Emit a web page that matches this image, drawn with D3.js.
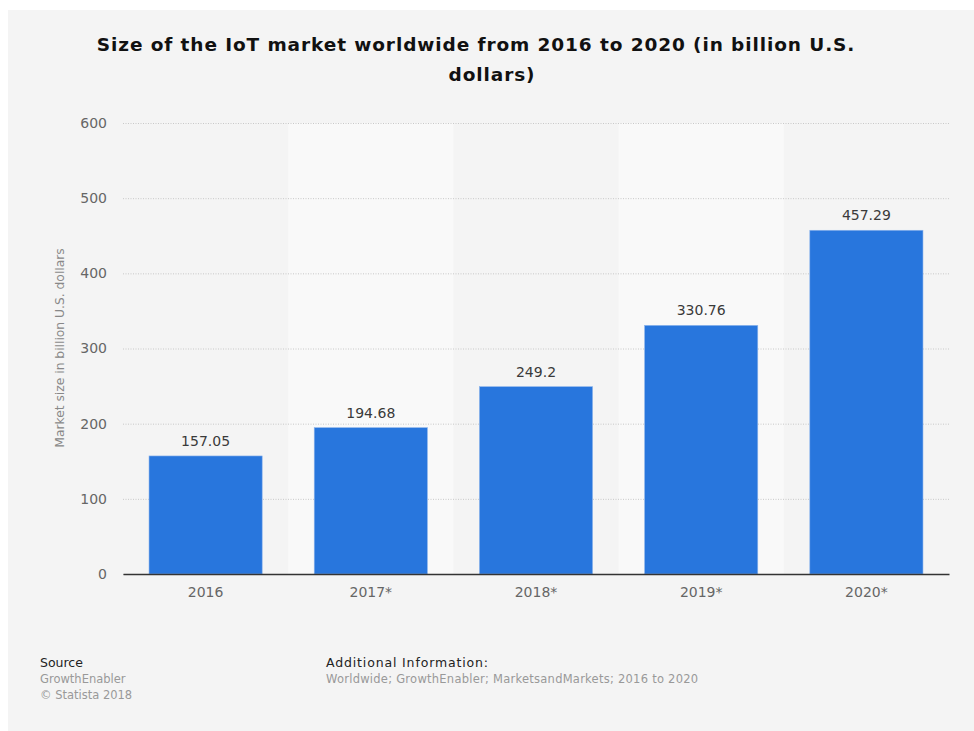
<!DOCTYPE html>
<html>
<head>
<meta charset="utf-8">
<script src="https://cdn.jsdelivr.net/npm/d3@7"></script>
<style>
html,body{margin:0;padding:0;background:#fff;}
svg{display:block;}
</style>
</head>
<body>
<svg id="chart" width="974" height="731"></svg>
<script>
const categories = ["2016", "2017*", "2018*", "2019*", "2020*"];
const values = [157.05, 194.68, 249.2, 330.76, 457.29];
const valueLabels = ["157.05", "194.68", "249.2", "330.76", "457.29"];
const yTicks = [0, 100, 200, 300, 400, 500, 600];
const titleLines = ["Size of the IoT market worldwide from 2016 to 2020 (in billion U.S.", "dollars)"];
const yAxisTitle = "Market size in billion U.S. dollars";
const sourceLines = ["GrowthEnabler", "© Statista 2018"];
const additionalInfo = "Worldwide; GrowthEnabler; MarketsandMarkets; 2016 to 2020";

const svg = d3.select("#chart");
const font = "'DejaVu Sans', Verdana, sans-serif";

svg.append("rect").attr("x", 8).attr("y", 10).attr("width", 966).attr("height", 721).attr("fill", "#f4f4f4");

const m = {left: 123, right: 949, top: 123, bottom: 574};
const x = d3.scaleBand().domain(categories).range([m.left, m.right]).paddingInner(0.315).paddingOuter(0.1575);
const xb = d3.scaleBand().domain(categories).range([m.left, m.right]).padding(0);
const y = d3.scaleLinear().domain([0, 600]).range([m.bottom, m.top]);

// alternating bands
svg.append("g").selectAll("rect").data(categories.filter((d, i) => i % 2 === 1)).join("rect")
  .attr("x", d => xb(d)).attr("y", m.top).attr("width", xb.bandwidth()).attr("height", m.bottom - m.top)
  .attr("fill", "#f9f9f9");

// title
const titleX = [476, 492];
svg.append("text").attr("x", 480).attr("y", 0).attr("text-anchor", "middle")
  .attr("font-family", font).attr("font-weight", "bold").attr("font-size", 18.5).attr("fill", "#111")
  .attr("letter-spacing", "0.9px")
  .selectAll("tspan").data(titleLines).join("tspan")
  .attr("x", (d, i) => titleX[i]).attr("y", (d, i) => 51 + i * 30).text(d => d);

// y axis grid + labels
const yAxis = d3.axisLeft(y).tickValues(yTicks).tickSize(-(m.right - m.left)).tickPadding(16);
const gy = svg.append("g").attr("transform", `translate(${m.left},0)`).call(yAxis);
gy.select(".domain").remove();
gy.selectAll(".tick line").attr("stroke", "#c8c8c8").attr("stroke-dasharray", "1,1.5");
gy.selectAll(".tick text").attr("font-family", font).attr("font-size", 14).attr("fill", "#666").attr("x", -16);

// y axis title
svg.append("text").attr("transform", `translate(64,348) rotate(-90)`)
  .attr("text-anchor", "middle").attr("font-family", font).attr("font-size", 12.3).attr("fill", "#888")
  .text(yAxisTitle);

// bars
svg.append("g").selectAll("rect").data(values).join("rect")
  .attr("x", (d, i) => x(categories[i])).attr("y", d => y(d))
  .attr("width", x.bandwidth()).attr("height", d => y(0) - y(d))
  .attr("fill", "#2876dd").attr("stroke", "#8db5ec").attr("stroke-width", 0.6);

// value labels
svg.append("g").selectAll("text").data(values).join("text")
  .attr("x", (d, i) => x(categories[i]) + x.bandwidth() / 2).attr("y", d => y(d) - 10)
  .attr("text-anchor", "middle").attr("font-family", font).attr("font-size", 14).attr("fill", "#3a3a3a")
  .text((d, i) => valueLabels[i]);

// x axis
const xAxis = d3.axisBottom(xb).tickSize(0).tickPadding(13);
const gx = svg.append("g").attr("transform", `translate(0,${m.bottom})`).call(xAxis);
gx.select(".domain").attr("stroke", "#333").attr("stroke-width", 1.5);
gx.selectAll(".tick text").attr("font-family", font).attr("font-size", 14).attr("fill", "#666");

// footer
svg.append("text").attr("x", 40).attr("y", 667).attr("font-family", font).attr("font-size", 12.5).attr("fill", "#222").text("Source");
svg.append("g").selectAll("text").data(sourceLines).join("text")
  .attr("x", 40).attr("y", (d, i) => 683 + i * 15.5).attr("font-family", font).attr("font-size", 11.5).attr("fill", "#999").text(d => d);
svg.append("text").attr("x", 326).attr("y", 667).attr("font-family", font).attr("font-size", 12.5).attr("fill", "#222").attr("letter-spacing", "0.85px").text("Additional Information:");
svg.append("text").attr("x", 326).attr("y", 683).attr("font-family", font).attr("font-size", 11.5).attr("fill", "#999").attr("letter-spacing", "0.25px").text(additionalInfo);
</script>
</body>
</html>
